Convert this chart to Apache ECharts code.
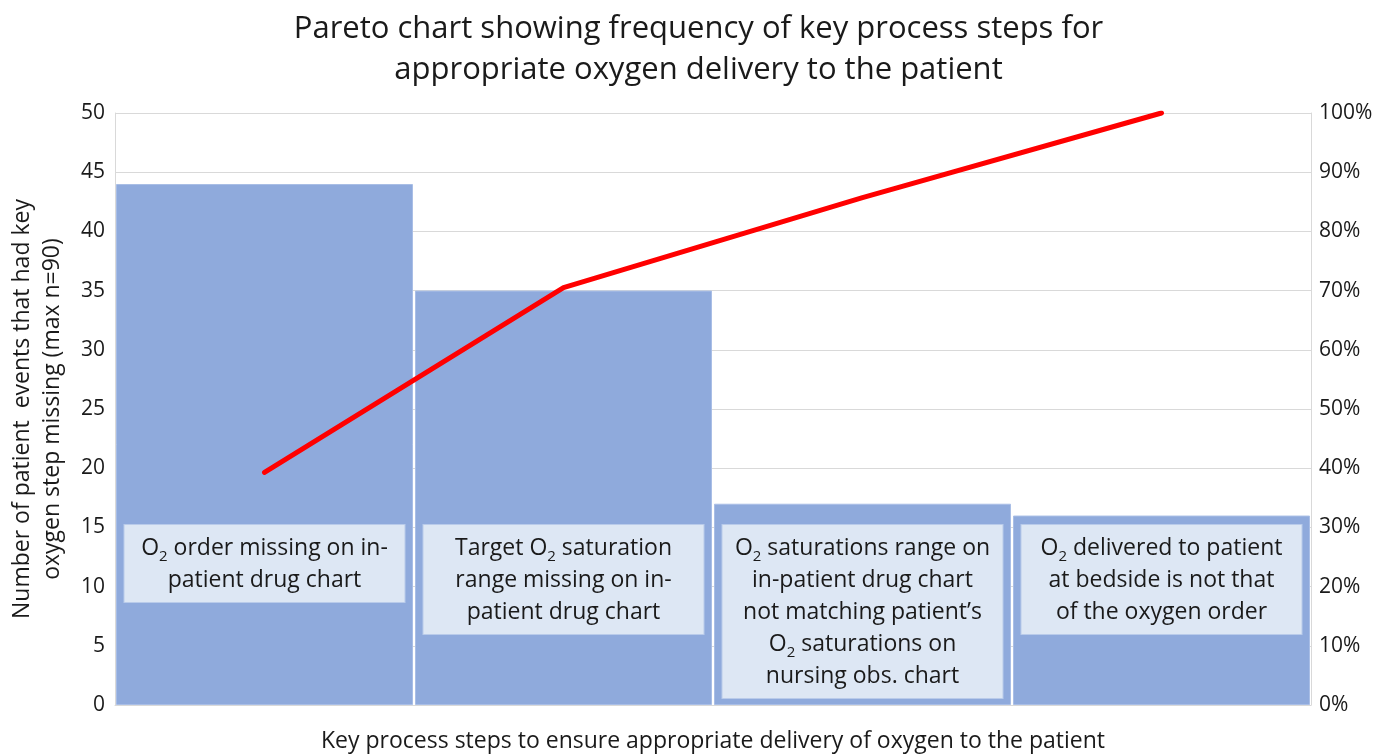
<!DOCTYPE html>
<html>
<head>
<meta charset="utf-8">
<script src="https://cdn.jsdelivr.net/npm/echarts@6/dist/echarts.min.js"></script>
<style>
    html, body { margin: 0; padding: 0; background: #fff; }
    #chart { width: 1397px; height: 754px; }
</style>
</head>
<body>
<div id="chart"></div>
<script>
// 数据
const steps = [
    'O2 order missing on in-patient drug chart',
    'Target O2 saturation range missing on in-patient drug chart',
    'O2 saturations range on in-patient drug chart not matching patient\u2019s O2 saturations on nursing obs. chart',
    'O2 delivered to patient at bedside is not that of the oxygen order'
];
const counts = [44, 35, 17, 16];
const cumulativePct = [39.3, 70.5, 85.7, 100];
// 标注框文字（分行，{s|2} 为下标）
const boxLines = [
    ['O{s|2} order missing on in-', 'patient drug chart'],
    ['Target O{s|2} saturation', 'range missing on in-', 'patient drug chart'],
    ['O{s|2} saturations range on', 'in-patient drug chart', 'not matching patient\u2019s', 'O{s|2} saturations on', 'nursing obs. chart'],
    ['O{s|2} delivered to patient', 'at bedside is not that', 'of the oxygen order']
];
const boxAnchor = [15.2, 15.2, 15.2, 15.2];

const FONT = '"Open Sans", Lato, sans-serif';

const chart = echarts.init(document.getElementById('chart'));

chart.setOption({
    animation: false,
    textStyle: { fontFamily: FONT },
    title: {
        text: 'Pareto chart showing frequency of key process steps for\nappropriate oxygen delivery to the patient',
        left: 'center',
        top: 4,
        textStyle: { fontFamily: FONT, fontSize: 31, fontWeight: 'normal', color: '#1a1a1a', lineHeight: 41 }
    },
    grid: { left: 115, right: 86, top: 113, bottom: 49, containLabel: false, outerBoundsMode: 'none' },
    xAxis: {
        type: 'category',
        data: steps,
        name: 'Key process steps to ensure appropriate delivery of oxygen to the patient',
        nameLocation: 'middle',
        nameGap: 25,
        nameMoveOverlap: false,
        nameTextStyle: { fontSize: 23, color: '#1a1a1a' },
        axisLabel: { show: false },
        axisTick: { show: false },
        axisLine: { lineStyle: { color: '#d9d9d9', width: 1 } }
    },
    yAxis: [
        {
            type: 'value',
            min: 0, max: 50, interval: 5,
            name: 'Number of patient  events that had key\noxygen step missing (max n=90)',
            nameLocation: 'middle',
            nameRotate: 90,
            nameGap: 48,
            nameMoveOverlap: false,
            nameTextStyle: { fontSize: 23, color: '#1a1a1a', lineHeight: 30 },
            axisLabel: { fontSize: 21, color: '#1a1a1a', margin: 10 },
            axisTick: { show: false },
            axisLine: { show: true, lineStyle: { color: '#d9d9d9' } },
            splitLine: { lineStyle: { color: '#d9d9d9' } }
        },
        {
            type: 'value',
            min: 0, max: 100, interval: 10,
            axisLabel: { fontSize: 21, color: '#1a1a1a', margin: 8, formatter: '{value}%' },
            axisTick: { show: false },
            axisLine: { show: true, lineStyle: { color: '#d9d9d9' } },
            splitLine: { show: false }
        }
    ],
    series: [
        {
            type: 'bar',
            data: counts,
            barWidth: 297,
            itemStyle: { color: '#8faadc', borderColor: '#a9bee6', borderWidth: 1 },
            z: 2
        },
        {
            type: 'bar',
            data: boxAnchor,
            barWidth: 297,
            barGap: '-100%',
            itemStyle: { color: 'rgba(0,0,0,0)' },
            silent: true,
            z: 3,
            label: {
                show: true,
                position: 'insideTop',
                distance: 0,
                formatter: p => boxLines[p.dataIndex].join('\n'),
                width: 260,
                align: 'center',
                padding: [7, 10, 6, 10],
                backgroundColor: '#dde7f4',
                borderColor: '#b9cbea',
                borderWidth: 1,
                fontFamily: FONT,
                fontSize: 23,
                lineHeight: 32,
                color: '#1a1a1a',
                rich: {
                    s: { fontSize: 15, fontFamily: FONT, color: '#1a1a1a', verticalAlign: 'bottom', lineHeight: 22 }
                }
            }
        },
        {
            type: 'line',
            yAxisIndex: 1,
            data: cumulativePct,
            symbol: 'none',
            lineStyle: { color: '#ff0000', width: 5, cap: 'round' },
            z: 4
        }
    ]
});
</script>
</body>
</html>
